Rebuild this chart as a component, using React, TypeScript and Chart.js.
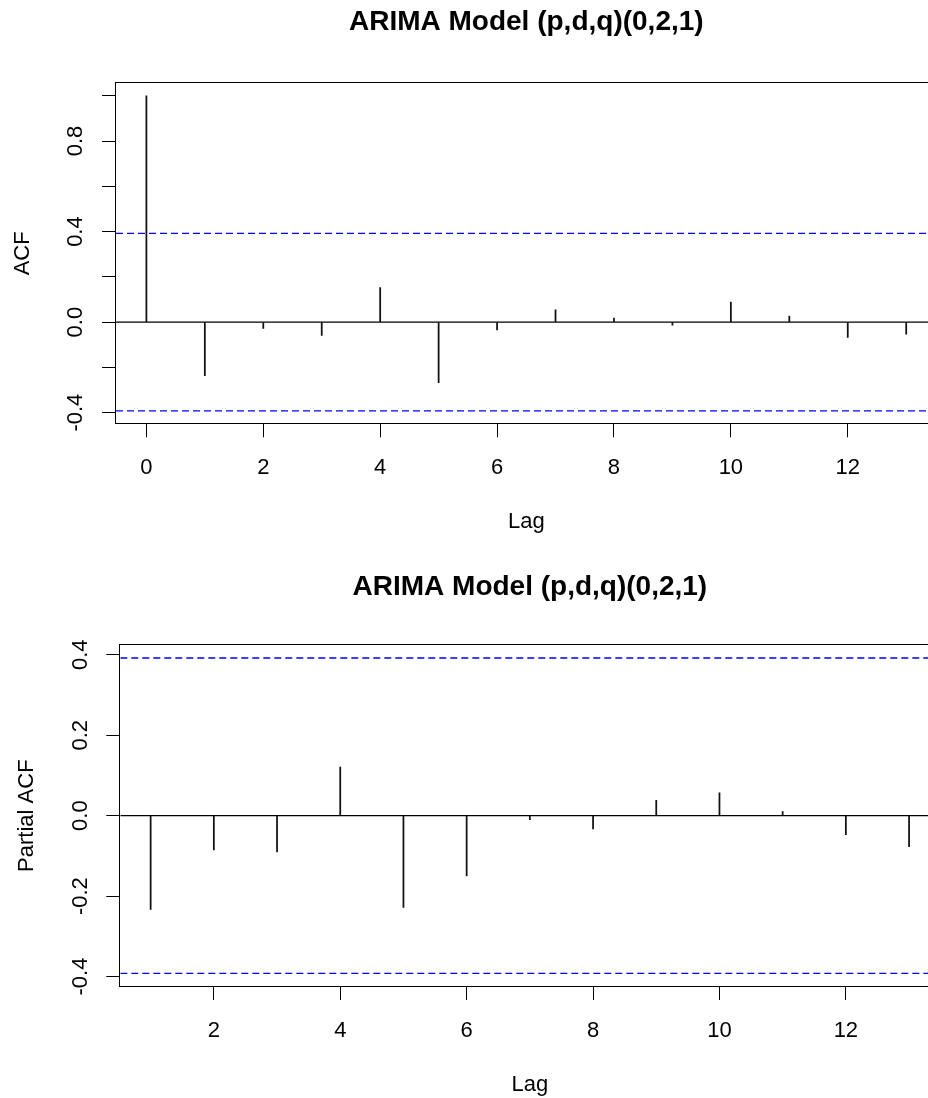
import React, { useEffect, useRef } from "react";
import { Chart, registerables } from "chart.js";

Chart.register(...registerables);

const FONT = "'Liberation Sans', Arial, Helvetica, sans-serif";

// ---------- data ----------
const plotTitle = "ARIMA Model (p,d,q)(0,2,1)";
const xAxisTitle = "Lag";
const acfAxisTitle = "ACF";
const pacfAxisTitle = "Partial ACF";

const acfLags = [0, 1, 2, 3, 4, 5, 6, 7, 8, 9, 10, 11, 12, 13];
const acfValues = [1.0, -0.237, -0.028, -0.059, 0.153, -0.267, -0.034, 0.054, 0.018, -0.013, 0.088, 0.027, -0.068, -0.053];

const pacfLags = [1, 2, 3, 4, 5, 6, 7, 8, 9, 10, 11, 12, 13];
const pacfValues = [-0.233, -0.085, -0.09, 0.121, -0.228, -0.15, -0.01, -0.033, 0.038, 0.057, 0.01, -0.047, -0.077];

const confidenceLimit = 0.392;

const acfXRange = [-0.52, 13.52];
const acfYRange = [-0.447, 1.055];
const pacfXRange = [0.52, 13.48];
const pacfYRange = [-0.4234, 0.4234];

const acfXTicks = [0, 2, 4, 6, 8, 10, 12];
const acfXTickLabels = ["0", "2", "4", "6", "8", "10", "12"];
const acfYTicks = [-0.4, -0.2, 0, 0.2, 0.4, 0.6, 0.8, 1.0];
const acfYTickLabels = ["-0.4", "", "0.0", "", "0.4", "", "0.8", ""];

const pacfXTicks = [2, 4, 6, 8, 10, 12];
const pacfXTickLabels = ["2", "4", "6", "8", "10", "12"];
const pacfYTicks = [-0.4, -0.2, 0, 0.2, 0.4];
const pacfYTickLabels = ["-0.4", "-0.2", "0.0", "0.2", "0.4"];

// ---------- layout ----------
type Panel = {
  lags: number[];
  values: number[];
  xRange: number[];
  yRange: number[];
  xTicks: number[];
  xTickLabels: string[];
  yTicks: number[];
  yTickLabels: string[];
  yTitle: string;
  canvasTop: number;
  canvasW: number;
  canvasH: number;
  padTop: number;
  padRight: number;
  yAxisWidth: number;
  xAxisHeight: number;
  titleBaseline: number;
};

const panels: Panel[] = [
  {
    lags: acfLags,
    values: acfValues,
    xRange: acfXRange,
    yRange: acfYRange,
    xTicks: acfXTicks,
    xTickLabels: acfXTickLabels,
    yTicks: acfYTicks,
    yTickLabels: acfYTickLabels,
    yTitle: acfAxisTitle,
    canvasTop: 0,
    canvasW: 950,
    canvasH: 560,
    padTop: 83.3,
    padRight: 13.4,
    yAxisWidth: 116,
    xAxisHeight: 136.7,
    titleBaseline: 30,
  },
  {
    lags: pacfLags,
    values: pacfValues,
    xRange: pacfXRange,
    yRange: pacfYRange,
    xTicks: pacfXTicks,
    xTickLabels: pacfXTickLabels,
    yTicks: pacfYTicks,
    yTickLabels: pacfYTickLabels,
    yTitle: pacfAxisTitle,
    canvasTop: 560,
    canvasW: 950,
    canvasH: 538,
    padTop: 85.3,
    padRight: 10.6,
    yAxisWidth: 120.3,
    xAxisHeight: 112,
    titleBaseline: 35,
  },
];

function makeChart(canvas: HTMLCanvasElement, p: Panel) {
  const framePlugin = {
    id: "rframe",
    afterDraw(chart: any) {
      const { ctx } = chart;
      const { left, top, right, bottom } = chart.chartArea;
      const xs = chart.scales.x;
      const ys = chart.scales.y;
      ctx.save();
      ctx.strokeStyle = "#000";
      ctx.lineWidth = 1;
      ctx.strokeRect(Math.round(left) - 0.5, Math.round(top) - 0.5, Math.round(right) - Math.round(left) + 1, Math.round(bottom) - Math.round(top) + 1);

      ctx.fillStyle = "#000";
      ctx.textBaseline = "alphabetic";
      ctx.textAlign = "center";

      // title
      ctx.font = `bold 28px ${FONT}`;
      ctx.fillText(plotTitle, (left + right) / 2, p.titleBaseline);

      // x tick labels
      ctx.font = `22px ${FONT}`;
      p.xTicks.forEach((v, i) => {
        const x = xs.getPixelForValue(v);
        ctx.fillText(p.xTickLabels[i], x, bottom + 51);
      });
      // x title
      ctx.fillText(xAxisTitle, (left + right) / 2, bottom + 104.5);

      // y tick labels (rotated)
      p.yTicks.forEach((v, i) => {
        const lab = p.yTickLabels[i];
        if (!lab) return;
        const y = ys.getPixelForValue(v);
        ctx.save();
        ctx.translate(left - 33.7, y);
        ctx.rotate(-Math.PI / 2);
        ctx.fillText(lab, 0, 0);
        ctx.restore();
      });
      // y title
      ctx.save();
      ctx.translate(left - 87, (top + bottom) / 2);
      ctx.rotate(-Math.PI / 2);
      ctx.fillText(p.yTitle, 0, 0);
      ctx.restore();

      ctx.restore();
    },
  };

  const [x0, x1] = p.xRange;
  return new Chart(canvas, {
    type: "bar",
    data: {
      datasets: [
        {
          type: "bar",
          data: p.lags.map((x, i) => ({ x, y: p.values[i] })),
          backgroundColor: "#111",
          borderWidth: 0,
          barThickness: 1.1,
        } as any,
        {
          type: "line",
          data: [
            { x: x0, y: 0 },
            { x: x1, y: 0 },
          ],
          borderColor: "#000",
          borderWidth: 1.1,
          pointRadius: 0,
        } as any,
        {
          type: "line",
          data: [
            { x: x0, y: confidenceLimit },
            { x: x1, y: confidenceLimit },
          ],
          borderColor: "#0000ff",
          borderWidth: 1.4,
          borderDash: [7, 4],
          pointRadius: 0,
        } as any,
        {
          type: "line",
          data: [
            { x: x0, y: -confidenceLimit },
            { x: x1, y: -confidenceLimit },
          ],
          borderColor: "#0000ff",
          borderWidth: 1.4,
          borderDash: [7, 4],
          pointRadius: 0,
        } as any,
      ],
    },
    options: {
      responsive: false,
      animation: false,
      devicePixelRatio: 1,
      layout: { padding: { top: p.padTop, right: p.padRight, bottom: 0, left: 0 } },
      plugins: {
        legend: { display: false },
        tooltip: { enabled: false },
        title: { display: false },
      },
      scales: {
        x: {
          type: "linear",
          min: p.xRange[0],
          max: p.xRange[1],
          offset: false,
          grid: {
            display: true,
            offset: false,
            drawOnChartArea: false,
            drawTicks: true,
            tickLength: 14,
            tickColor: "#000",
            lineWidth: 1,
          },
          border: { display: false },
          ticks: { display: false },
          afterBuildTicks: (s: any) => {
            s.ticks = p.xTicks.map((v) => ({ value: v }));
          },
          afterFit: (s: any) => {
            s.height = p.xAxisHeight;
          },
        },
        y: {
          type: "linear",
          min: p.yRange[0],
          max: p.yRange[1],
          grid: {
            display: true,
            offset: false,
            drawOnChartArea: false,
            drawTicks: true,
            tickLength: 14,
            tickColor: "#000",
            lineWidth: 1,
          },
          border: { display: false },
          ticks: { display: false },
          afterBuildTicks: (s: any) => {
            s.ticks = p.yTicks.map((v) => ({ value: v }));
          },
          afterFit: (s: any) => {
            s.width = p.yAxisWidth;
          },
        },
      },
    } as any,
    plugins: [framePlugin],
  });
}

function PanelCanvas({ panel }: { panel: Panel }) {
  const ref = useRef<HTMLCanvasElement | null>(null);
  useEffect(() => {
    if (!ref.current) return;
    const chart = makeChart(ref.current, panel);
    return () => chart.destroy();
  }, [panel]);
  return (
    <canvas
      ref={ref}
      width={panel.canvasW}
      height={panel.canvasH}
      style={{
        position: "absolute",
        left: 0,
        top: panel.canvasTop,
        width: panel.canvasW,
        height: panel.canvasH,
        display: "block",
      }}
    />
  );
}

export default function App() {
  return (
    <div
      style={{
        position: "absolute",
        left: 0,
        top: 0,
        width: 928,
        height: 1098,
        overflow: "hidden",
        background: "#fff",
      }}
    >
      {panels.map((p, i) => (
        <PanelCanvas key={i} panel={p} />
      ))}
    </div>
  );
}
